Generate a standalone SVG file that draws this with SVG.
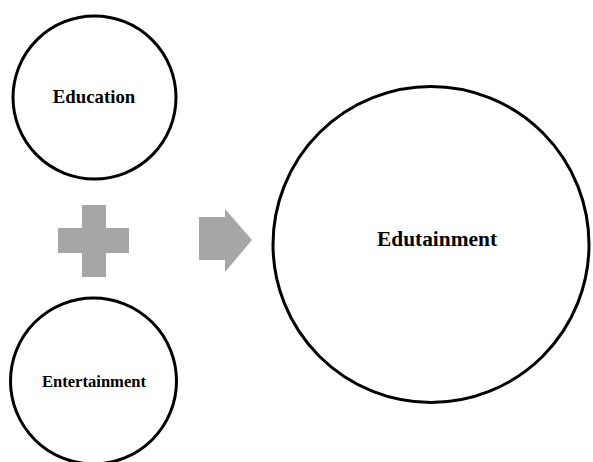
<svg xmlns="http://www.w3.org/2000/svg" width="593" height="462" viewBox="0 0 593 462">
<style>
.c{fill:#fff;stroke:#000;stroke-width:3}
.t{font-family:"Liberation Serif","Times New Roman",serif;font-weight:bold;fill:#000;text-anchor:middle}
.g{fill:#a6a6a6}
</style>
<rect width="593" height="462" fill="#fff"/>
<g id="education"><circle class="c" cx="94.5" cy="97.5" r="81.5"/><text class="t" x="94" y="103" font-size="18.8">Education</text></g>
<g id="entertainment"><circle class="c" cx="93.5" cy="381" r="83"/><text class="t" x="94" y="387" font-size="16.6">Entertainment</text></g>
<g id="edutainment"><circle class="c" cx="431" cy="244.5" r="158"/><text class="t" x="437" y="246" font-size="21.4">Edutainment</text></g>
<g id="connectors">
<path class="g" d="M82 205H106V228H129V253H106V277H82V253H58V228H82Z"/>
<path class="g" d="M199 217H225V209L252 240L225 272V260H199Z"/>
</g>
</svg>
